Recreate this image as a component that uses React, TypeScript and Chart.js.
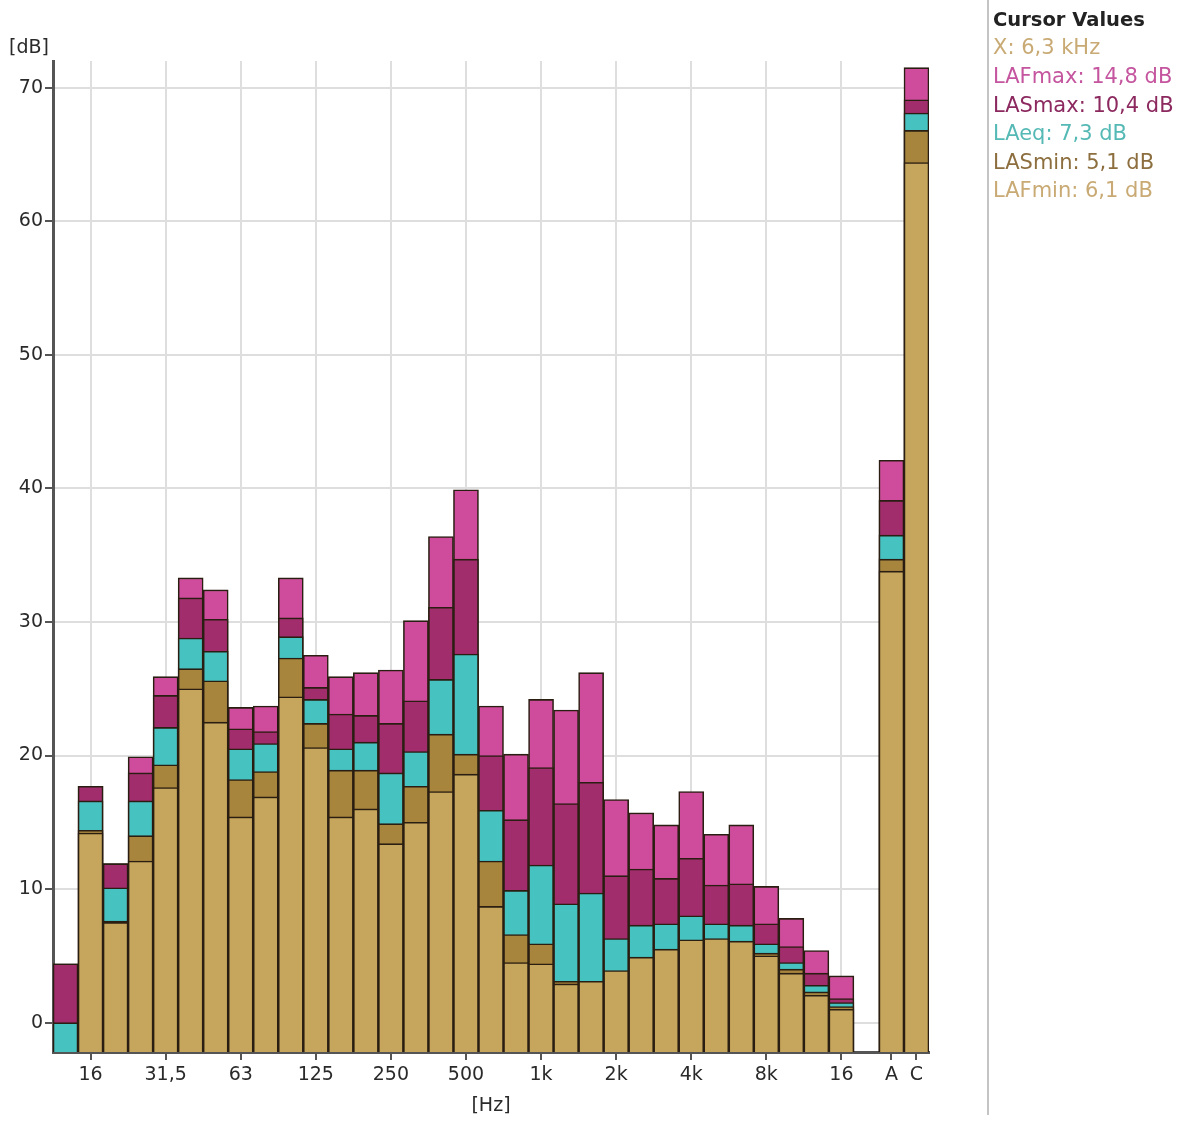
import React, { useEffect, useRef } from 'react';
import { Chart, registerables } from 'chart.js';

Chart.register(...registerables);

const FONT = '"DejaVu Sans", Verdana, sans-serif';

const bands = ['12,5', '16', '20', '25', '31,5', '40', '50', '63', '80', '100', '125', '160', '200', '250', '315', '400', '500', '630', '800', '1k', '1,25k', '1,6k', '2k', '2,5k', '3,15k', '4k', '5k', '6,3k', '8k', '10k', '12,5k', '16k', '', 'A', 'C'];
const tickLabels = ['', '16', '', '', '31,5', '', '', '63', '', '', '125', '', '', '250', '', '', '500', '', '', '1k', '', '', '2k', '', '', '4k', '', '', '8k', '', '', '16', '', 'A', 'C'];
const gridAt = [false, true, false, false, true, false, false, true, false, false, true, false, false, true, false, false, true, false, false, true, false, false, true, false, false, true, false, false, true, false, false, true, false, false, false];

const LAFmax = [4.4, 17.7, 11.9, 19.9, 25.9, 33.3, 32.4, 23.6, 23.7, 33.3, 27.5, 25.9, 26.2, 26.4, 30.1, 36.4, 39.9, 23.7, 20.1, 24.2, 23.4, 26.2, 16.7, 15.7, 14.8, 17.3, 14.1, 14.8, 10.2, 7.8, 5.4, 3.5, null, 42.1, 71.5];
const LASmax = [4.4, 17.7, 11.9, 18.7, 24.5, 31.8, 30.2, 22.0, 21.8, 30.3, 25.1, 23.1, 23.0, 22.4, 24.1, 31.1, 34.7, 20.0, 15.2, 19.1, 16.4, 18.0, 11.0, 11.5, 10.8, 12.3, 10.3, 10.4, 7.4, 5.7, 3.7, 1.8, null, 39.1, 69.1];
const LAeq = [0.0, 16.6, 10.1, 16.6, 22.1, 28.8, 27.8, 20.5, 20.9, 28.9, 24.2, 20.5, 21.0, 18.7, 20.3, 25.7, 27.6, 15.9, 9.9, 11.8, 8.9, 9.7, 6.3, 7.3, 7.4, 8.0, 7.4, 7.3, 5.9, 4.5, 2.8, 1.5, null, 36.5, 68.1];
const LASmin = [null, 14.4, 7.6, 14.0, 19.3, 26.5, 25.6, 18.2, 18.8, 27.3, 22.4, 18.9, 18.9, 14.9, 17.7, 21.6, 20.1, 12.1, 6.6, 5.9, 3.1, 3.0, 3.7, 4.7, 5.3, 6.0, 6.1, 5.1, 5.2, 4.0, 2.3, 1.2, null, 34.7, 66.8];
const LAFmin = [null, 14.2, 7.5, 12.1, 17.6, 25.0, 22.5, 15.4, 16.9, 24.4, 20.6, 15.4, 16.0, 13.4, 15.0, 17.3, 18.6, 8.7, 4.5, 4.4, 2.9, 3.1, 3.9, 4.9, 5.5, 6.2, 6.3, 6.1, 5.0, 3.7, 2.05, 1.0, null, 33.8, 64.4];

const yTicks = [0, 10, 20, 30, 40, 50, 60, 70];
const Y_MIN = -2.2;
const Y_MAX = 72;

const cursorTitle = 'Cursor Values';
const cursorLines = ['X: 6,3 kHz', 'LAFmax: 14,8 dB', 'LASmax: 10,4 dB', 'LAeq: 7,3 dB', 'LASmin: 5,1 dB', 'LAFmin: 6,1 dB'];
const cursorColors = ['#c9aa74', '#c4559e', '#8c2a60', '#55b9b5', '#8d6f3f', '#c9aa74'];

const seriesNames = ['LAFmax', 'LASmax', 'LAeq', 'LASmin', 'LAFmin'];
const seriesData = [LAFmax, LASmax, LAeq, LASmin, LAFmin];
const seriesColors = ['#cf4b9b', '#a22d6c', '#46c3c1', '#a8853d', '#c6a65c'];

const decorPlugin = {
  id: 'decor',
  afterDraw(chart: any) {
    const ctx = chart.ctx as CanvasRenderingContext2D;
    ctx.save();
    ctx.fillStyle = '#2a2a2a';
    ctx.font = `19px ${FONT}`;
    ctx.textBaseline = 'middle';
    ctx.textAlign = 'left';
    ctx.fillText('[dB]', 9, 48);
    ctx.textAlign = 'center';
    ctx.fillText('[Hz]', 491, 1106);
    ctx.strokeStyle = '#c4c4c4';
    ctx.lineWidth = 2;
    ctx.beginPath();
    ctx.moveTo(988, 0);
    ctx.lineTo(988, 1115);
    ctx.stroke();
    ctx.textAlign = 'left';
    ctx.fillStyle = '#222';
    ctx.font = `bold 19.5px ${FONT}`;
    ctx.fillText(cursorTitle, 993, 21);
    ctx.font = `21px ${FONT}`;
    cursorLines.forEach((t, i) => {
      ctx.fillStyle = cursorColors[i];
      ctx.fillText(t, 993, 49 + i * 28.6);
    });
    ctx.restore();
  },
};

export default function App() {
  const ref = useRef<HTMLCanvasElement | null>(null);
  useEffect(() => {
    const canvas = ref.current;
    if (!canvas) return;
    const chart = new Chart(canvas, {
      type: 'bar',
      data: {
        labels: bands,
        datasets: seriesNames.map((name, i) => ({
          label: name,
          data: seriesData[i] as any,
          backgroundColor: seriesColors[i],
          borderColor: '#2a1e12',
          borderWidth: 1.6,
          borderSkipped: 'start',
          base: Y_MIN,
          grouped: false,
          order: seriesNames.length - i,
          categoryPercentage: 1,
          barPercentage: 1,
        })) as any,
      },
      options: {
        animation: false,
        responsive: false,
        maintainAspectRatio: false,
        layout: { padding: { left: 0, right: 251, top: 61, bottom: 0 } },
        plugins: { legend: { display: false }, tooltip: { enabled: false } },
        scales: {
          x: {
            type: 'category',
            offset: true,
            grid: {
              offset: false,
              color: (c: any) => (gridAt[c.index] ? '#dedede' : 'rgba(0,0,0,0)'),
              lineWidth: 2,
              tickColor: (c: any) => (tickLabels[c.index] ? '#555' : 'rgba(0,0,0,0)'),
              tickLength: 8,
              tickWidth: 2,
            },
            border: { color: '#555', width: 3 },
            ticks: {
              autoSkip: false,
              maxRotation: 0,
              minRotation: 0,
              callback: (_v: any, i: number) => tickLabels[i],
              font: { family: FONT, size: 19 },
              color: '#2a2a2a',
              padding: 4,
            },
            afterFit: (s: any) => {
              s.height = 69;
            },
          },
          y: {
            min: Y_MIN,
            max: Y_MAX,
            afterBuildTicks: (s: any) => {
              s.ticks = yTicks.map((v) => ({ value: v }));
            },
            grid: { color: '#dedede', lineWidth: 2, tickColor: '#555', tickLength: 8, tickWidth: 2 },
            border: { color: '#555', width: 3 },
            ticks: { font: { family: FONT, size: 19 }, color: '#2a2a2a', padding: 2 },
            afterFit: (s: any) => {
              s.width = 53;
            },
          },
        },
      } as any,
      plugins: [decorPlugin],
    });
    return () => chart.destroy();
  }, []);
  return (
    <div style={{ position: 'absolute', left: 0, top: 0, width: 1180, height: 1121, background: '#fff' }}>
      <canvas ref={ref} width={1180} height={1121} style={{ display: 'block' }} />
    </div>
  );
}
